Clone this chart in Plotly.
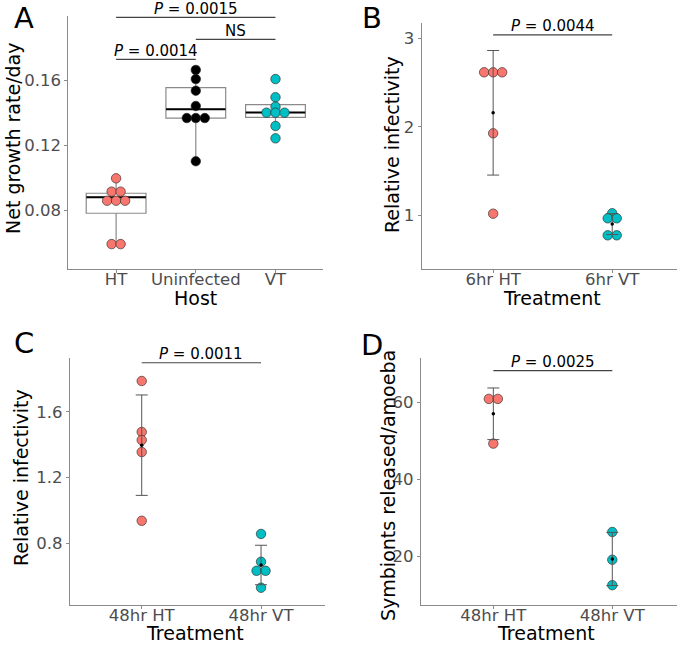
import numpy as np
import plotly.graph_objects as go

# ---- data ----
# A: net growth rate/day
hosts = ["HT", "Uninfected", "VT"]
ht_growth = [0.0995, 0.0913, 0.0913, 0.0857, 0.0857, 0.0857, 0.0590, 0.0590]
uninf_growth = [0.1662, 0.1606, 0.1534, 0.1440, 0.1366, 0.1366, 0.1366, 0.1100]
vt_growth = [0.1606, 0.1494, 0.1436, 0.1399, 0.1399, 0.1399, 0.1317, 0.1241]
box_q1 = [0.0780, 0.1366, 0.1370]
box_med = [0.0878, 0.1420, 0.1400]
box_q3 = [0.0903, 0.1553, 0.1448]
box_lo = [0.0590, 0.1100, 0.1317]
box_hi = [0.0995, 0.1662, 0.1494]

# B: relative infectivity 6hr
treat_6 = ["6hr HT", "6hr VT"]
inf6_ht = [2.617, 2.617, 2.617, 1.926, 1.015]
inf6_vt = [1.020, 0.963, 0.963, 0.770, 0.770]

# C: relative infectivity 48hr
treat_48 = ["48hr HT", "48hr VT"]
inf48_ht = [1.787, 1.477, 1.428, 1.355, 0.937]
inf48_vt = [0.857, 0.688, 0.633, 0.633, 0.530]

# D: symbionts released per amoeba
sym_ht = [60.96, 60.96, 49.35]
sym_vt = [26.4, 19.2, 12.6]

RED = "#F8766D"
CYAN = "#00BFC4"
W, H = 677, 646
FONT = "DejaVu Sans"


def px(x):
    return x / W


def py(y):
    return 1 - y / H


def dot_offsets(vals, step):
    # centre-stacked dots, like geom_dotplot
    vals = np.asarray(vals)
    off = np.zeros(len(vals))
    for v in np.unique(vals):
        idx = np.where(vals == v)[0]
        n = len(idx)
        off[idx] = (np.arange(n) - (n - 1) / 2) * step
    return off


def dots(fig, pos, vals, color, step, xa, ya):
    x = pos + dot_offsets(vals, step)
    fig.add_trace(go.Scatter(x=x, y=vals, mode="markers", xaxis=xa, yaxis=ya,
                             marker=dict(size=9.5, color=color,
                                         line=dict(color="#222", width=0.6)),
                             showlegend=False, hoverinfo="y"))


def meansd(fig, groups, xa, ya):
    m = [np.mean(g) for g in groups]
    s = [np.std(g, ddof=1) for g in groups]
    fig.add_trace(go.Scatter(x=list(range(len(groups))), y=m, mode="markers",
                             xaxis=xa, yaxis=ya,
                             marker=dict(size=3.5, color="black"),
                             error_y=dict(type="data", array=s, color="#555",
                                          thickness=1, width=6),
                             showlegend=False))


fig = go.Figure()

# ---- panel A ----
fig.add_trace(go.Box(x=[0, 1, 2], q1=box_q1, median=box_med, q3=box_q3,
                     lowerfence=box_lo, upperfence=box_hi, width=0.75,
                     whiskerwidth=0, fillcolor="white",
                     line=dict(color="#8a8a8a", width=1.2),
                     boxpoints=False, showlegend=False, xaxis="x", yaxis="y"))
# thicker black median, as in ggplot
fig.add_trace(go.Scatter(x=[0, 1, 2], y=box_med, mode="markers", xaxis="x", yaxis="y",
                         marker=dict(symbol="line-ew", size=42.5,
                                     line=dict(color="black", width=2)),
                         showlegend=False))
stepA = 9 / 79.7
for i, (vals, col) in enumerate([(ht_growth, RED), (uninf_growth, "black"), (vt_growth, CYAN)]):
    dots(fig, i, vals, col, stepA, "x", "y")

# ---- panels B, C, D ----
step2 = 9 / 119.1
for xa, ya, ht, vt in [("x2", "y2", inf6_ht, inf6_vt),
                       ("x3", "y3", inf48_ht, inf48_vt),
                       ("x4", "y4", sym_ht, sym_vt)]:
    dots(fig, 0, ht, RED, step2, xa, ya)
    dots(fig, 1, vt, CYAN, step2, xa, ya)
    meansd(fig, [ht, vt], xa, ya)

tickfont = dict(family=FONT, size=16.5, color="#4d4d4d")
axcommon = dict(showgrid=False, zeroline=False, showline=True, linecolor="#8a8a8a",
                linewidth=1.2, ticks="outside", ticklen=3, tickcolor="#8a8a8a",
                tickfont=tickfont, fixedrange=True)
xcommon = dict(axcommon, ticklabelstandoff=-8)

layout = dict(
    width=W, height=H, margin=dict(l=0, r=0, t=0, b=0),
    paper_bgcolor="white", plot_bgcolor="white",
    xaxis=dict(domain=[px(68.3), px(323.3)], range=[-0.6, 2.6], anchor="y",
               tickvals=[0, 1, 2], ticktext=hosts, **xcommon),
    yaxis=dict(domain=[py(269.3), py(16)], range=[0.0435, 0.1994], anchor="x",
               tickvals=[0.08, 0.12, 0.16], ticktext=["0.08", "0.12", "0.16"], **axcommon),
    xaxis2=dict(domain=[px(421.7), 1.0], range=[-0.6, 1.544], anchor="y2",
                tickvals=[0, 1], ticktext=treat_6, **xcommon),
    yaxis2=dict(domain=[py(269.3), py(22.7)], range=[0.385, 3.179], anchor="x2",
                tickvals=[1, 2, 3], **axcommon),
    xaxis3=dict(domain=[px(70), px(325)], range=[-0.601, 1.536], anchor="y3",
                tickvals=[0, 1], ticktext=treat_48, **xcommon),
    yaxis3=dict(domain=[py(605), py(358.3)], range=[0.425, 1.925], anchor="x3",
                tickvals=[0.8, 1.2, 1.6], ticktext=["0.8", "1.2", "1.6"], **axcommon),
    xaxis4=dict(domain=[px(421), 1.0], range=[-0.608, 1.544], anchor="y4",
                tickvals=[0, 1], ticktext=treat_48, **xcommon),
    yaxis4=dict(domain=[py(605), py(358.3)], range=[7.45, 71.5], anchor="x4",
                tickvals=[20, 40, 60], **axcommon),
)
fig.update_layout(**layout)

# ---- significance brackets ----
sig = [("x", "y", 0, 2, 0.1986, "<i>P</i> = 0.0015"),
       ("x", "y", 1, 2, 0.1850, "NS"),
       ("x", "y", 0, 1, 0.1727, "<i>P</i> = 0.0014"),
       ("x2", "y2", 0, 1, 3.04, "<i>P</i> = 0.0044"),
       ("x3", "y3", 0, 1, 1.898, "<i>P</i> = 0.0011"),
       ("x4", "y4", 0, 1, 68.3, "<i>P</i> = 0.0025")]
for xa, ya, x0, x1, yv, txt in sig:
    fig.add_shape(type="line", xref=xa, yref=ya, x0=x0, x1=x1, y0=yv, y1=yv,
                  line=dict(color="#444", width=1.2))
    fig.add_annotation(xref=xa, yref=ya, x=(x0 + x1) / 2, y=yv, text=txt,
                       showarrow=False, yanchor="bottom", yshift=-1.5, borderpad=0,
                       font=dict(family=FONT, size=15, color="black"))

# ---- axis titles and panel letters ----
titlefont = dict(family=FONT, size=19, color="black")
xtitles = [("Host", 195.8, 298), ("Treatment", 552, 298),
           ("Treatment", 195, 633), ("Treatment", 546, 633)]
for t, x, y in xtitles:
    fig.add_annotation(xref="paper", yref="paper", x=px(x), y=py(y), text=t,
                       showarrow=False, xanchor="center", yanchor="middle", font=titlefont)
ytitles = [("Net growth rate/day", 13, 139), ("Relative infectivity", 392, 145),
           ("Relative infectivity", 21, 478), ("Symbionts released/amoeba", 388, 486)]
for t, x, y in ytitles:
    fig.add_annotation(xref="paper", yref="paper", x=px(x), y=py(y), text=t, textangle=-90,
                       showarrow=False, xanchor="center", yanchor="middle", font=titlefont)
letters = [("A", 24, 18), ("B", 372, 18), ("C", 24, 343), ("D", 372, 345)]
for t, x, y in letters:
    fig.add_annotation(xref="paper", yref="paper", x=px(x), y=py(y), text=t,
                       showarrow=False, xanchor="center", yanchor="middle",
                       font=dict(family=FONT, size=29, color="black"))

fig.write_html("out.html", config={"displayModeBar": False},
               post_script="document.body.style.margin='0px';")
